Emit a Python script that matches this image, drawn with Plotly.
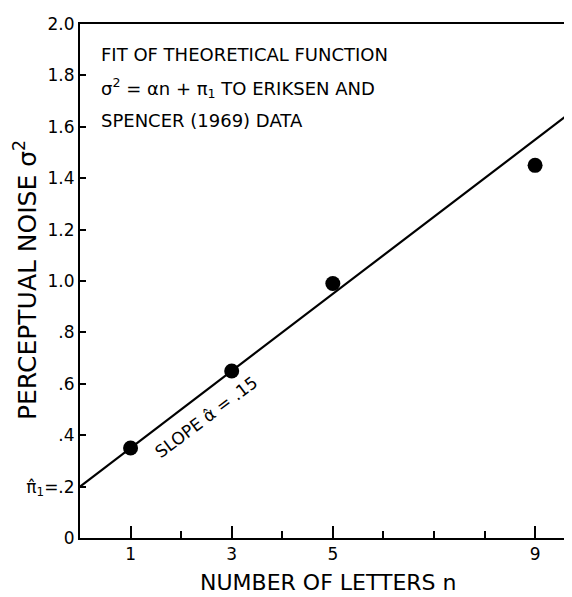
import plotly.graph_objects as go

# Data
letters_n = [1, 3, 5, 9]
noise_sigma2 = [0.35, 0.65, 0.99, 1.45]
slope_a = 0.15
intercept_pi1 = 0.2
fit_n = [0, 9.73]
fit_sigma2 = [intercept_pi1 + slope_a * n for n in fit_n]

x_tickvals = [1, 3, 5, 9]
x_ticktext = ["1", "3", "5", "9"]
x_minor = [2, 4, 6, 7, 8]
y_tickvals = [0, 0.2, 0.4, 0.6, 0.8, 1.0, 1.2, 1.4, 1.6, 1.8, 2.0]
y_ticktext = ["0", "π̂<sub>1</sub>=.2", ".4", ".6", ".8", "1.0", "1.2", "1.4", "1.6", "1.8", "2.0"]

note_lines = ["FIT OF THEORETICAL FUNCTION",
              "σ<sup>2</sup> = αn + π<sub>1</sub> TO ERIKSEN AND",
              "SPENCER (1969) DATA"]
note_y = [1.88, 1.75, 1.625]

FONT = "DejaVu Sans"

# figure geometry (page body has an 8px margin)
W, H = 564, 589
ML, MR, MT, MB = 72, 0, 16, 59
PW, PH = W - ML - MR, H - MT - MB


def px(x):
    return (x - 8 - ML) / PW


def py(y):
    return (H - MB - (y - 8)) / PH


fig = go.Figure()
fig.add_trace(go.Scatter(x=fit_n, y=fit_sigma2, mode="lines",
                         line=dict(color="black", width=2.2), showlegend=False))
fig.add_trace(go.Scatter(x=letters_n, y=noise_sigma2, mode="markers",
                         marker=dict(color="black", size=15), showlegend=False))

for txt, yy in zip(note_lines, note_y):
    fig.add_annotation(x=px(99), y=yy, xref="paper", yref="y", xanchor="left", yanchor="middle",
                       align="left", showarrow=False, text=txt,
                       font=dict(family=FONT, size=18, color="black"))
fig.add_annotation(x=2.5, y=0.47, xref="x", yref="y", showarrow=False, textangle=-37,
                   xanchor="center", yanchor="middle",
                   text="SLOPE α̂ = .15", font=dict(family=FONT, size=17, color="black"))

# axis titles as annotations
fig.add_annotation(x=px(328), y=py(582), xref="paper", yref="paper", showarrow=False,
                   xanchor="center", yanchor="middle",
                   text="NUMBER OF LETTERS n", font=dict(family=FONT, size=22, color="black"))
fig.add_annotation(x=px(25), y=py(280), xref="paper", yref="paper", showarrow=False, textangle=-90,
                   xanchor="center", yanchor="middle",
                   text="PERCEPTUAL NOISE σ<sup>2</sup>", font=dict(family=FONT, size=25, color="black"))

fig.update_xaxes(range=[0, 9.73], tickvals=x_tickvals, ticktext=x_ticktext,
                 ticks="inside", ticklen=12, tickwidth=1.5, tickcolor="black",
                 minor=dict(tickvals=x_minor, ticks="inside", ticklen=7, tickwidth=1.5, tickcolor="black"),
                 showline=True, linecolor="black", linewidth=2, mirror=True,
                 showgrid=False, zeroline=False, automargin=False,
                 tickfont=dict(family=FONT, size=17, color="black"))
fig.update_yaxes(range=[0, 2.0], tickvals=y_tickvals, ticktext=y_ticktext,
                 ticks="inside", ticklen=6, tickwidth=1.5, tickcolor="black",
                 showline=True, linecolor="black", linewidth=2,
                 showgrid=False, zeroline=False, automargin=False,
                 tickfont=dict(family=FONT, size=17, color="black"))

fig.update_layout(width=W, height=H, margin=dict(l=ML, r=MR, t=MT, b=MB),
                  plot_bgcolor="white", paper_bgcolor="white")
fig.write_html("out.html")
